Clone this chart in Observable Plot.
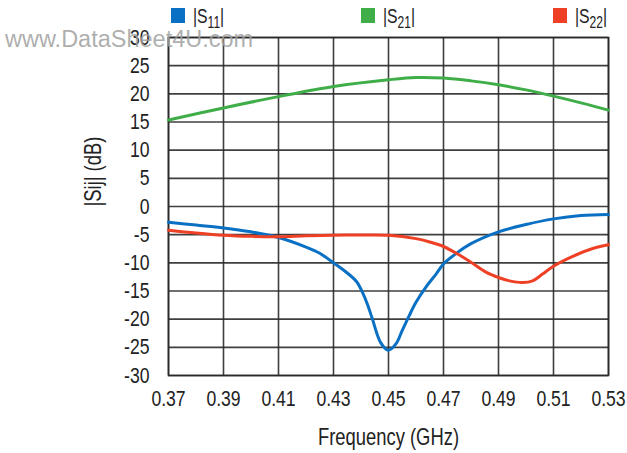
<!DOCTYPE html>
<html><head><meta charset="utf-8">
<script src="https://cdn.jsdelivr.net/npm/d3@7"></script>
<script src="https://cdn.jsdelivr.net/npm/@observablehq/plot@0.6"></script>
<style>
body{margin:0;background:#fff;}
#wrap{position:relative;width:627px;height:453px;font-family:"Liberation Sans",Arial,sans-serif;}
.sw{position:absolute;top:8px;width:14px;height:15px;}
.lt{position:absolute;top:5px;font-size:21px;line-height:21px;color:#222;white-space:nowrap;transform:scaleX(0.75);transform-origin:0 0;}
.lt sub{font-size:16px;vertical-align:-5px;line-height:0;}
#wm{position:absolute;left:5px;top:26px;font-size:23.5px;line-height:normal;color:rgba(160,160,160,0.85);white-space:nowrap;}
</style></head>
<body><div id="wrap"></div>
<script>
// |S11| readings
const f11 = [0.37,0.38,0.39,0.40,0.41,0.42,0.425,0.43,0.435,0.4385,0.4405,0.4423,0.4441,0.4472,0.45,0.4527,0.455,0.4575,0.46,0.4636,0.4673,0.47,0.475,0.48,0.49,0.50,0.51,0.52,0.53];
const s11 = [-2.8,-3.3,-3.8,-4.5,-5.5,-7.2,-8.3,-10.0,-11.8,-13.4,-15.2,-17.3,-19.9,-24.2,-25.5,-24.4,-22.0,-19.4,-17.0,-14.3,-12.0,-10.2,-8.2,-6.6,-4.5,-3.2,-2.2,-1.6,-1.4];
// |S21| readings
const f21 = [0.37,0.39,0.41,0.43,0.45,0.46,0.47,0.48,0.49,0.50,0.51,0.52,0.53];
const s21 = [15.35,17.5,19.5,21.3,22.5,22.9,22.8,22.3,21.6,20.7,19.6,18.4,17.1];
// |S22| readings
const f22 = [0.37,0.38,0.39,0.40,0.41,0.42,0.43,0.44,0.45,0.46,0.465,0.47,0.475,0.48,0.4856,0.49,0.494,0.4988,0.5024,0.506,0.51,0.5168,0.524,0.53];
const s22 = [-4.2,-4.7,-5.1,-5.3,-5.35,-5.2,-5.1,-5.06,-5.1,-5.7,-6.3,-7.1,-8.4,-9.9,-11.7,-12.6,-13.2,-13.5,-13.2,-12.0,-10.6,-8.9,-7.5,-6.8];

const xTicks = [0.37,0.39,0.41,0.43,0.45,0.47,0.49,0.51,0.53];
const yTicks = [-30,-25,-20,-15,-10,-5,0,5,10,15,20,25,30];
const seriesNames = ["|S11|","|S21|","|S22|"];
const colors = ["#0a70c4","#3fae49","#ee4025"];
const xLabel = "Frequency (GHz)";
const yLabel = "|Sij| (dB)";

const rows = [];
f11.forEach((f,i)=>rows.push({f, v:s11[i], s:seriesNames[0]}));
f21.forEach((f,i)=>rows.push({f, v:s21[i], s:seriesNames[1]}));
f22.forEach((f,i)=>rows.push({f, v:s22[i], s:seriesNames[2]}));

const chart = Plot.plot({
  width:627, height:453,
  marginLeft:168, marginRight:19, marginTop:37, marginBottom:78,
  style:{fontFamily:'"Liberation Sans",Arial,sans-serif', fontSize:"22px", color:"#222", background:"#fff", overflow:"visible"},
  x:{domain:[0.37,0.53], ticks:xTicks, tickFormat:d3.format(".2f"), tickSize:0, tickPadding:15, label:null},
  y:{domain:[-30,30], ticks:yTicks, tickFormat:d=>String(d), tickSize:0, tickPadding:19, label:null},
  color:{domain:seriesNames, range:colors},
  marks:[
    Plot.gridX(xTicks,{stroke:"#2a2a2a", strokeOpacity:0.9, strokeWidth:1.6}),
    Plot.gridY(yTicks,{stroke:"#2a2a2a", strokeOpacity:0.9, strokeWidth:1.6}),
    Plot.frame({stroke:"#2a2a2a", strokeWidth:1.6}),
    Plot.line(rows,{x:"f", y:"v", z:"s", stroke:"s", strokeWidth:3, curve:"catmull-rom"}),
    Plot.text([xLabel],{text:d=>d, frameAnchor:"bottom", dy:62, lineAnchor:"middle", fontSize:23, fill:"#222"}),
    Plot.text([yLabel],{text:d=>d, frameAnchor:"left", dx:-75, rotate:-90, lineAnchor:"middle", fontSize:23, fill:"#222"})
  ]
});
// condense all chart text horizontally (Helvetica Condensed look)
chart.querySelectorAll("text").forEach(t=>{
  const x = +t.getAttribute("x")||0, y = +t.getAttribute("y")||0;
  const tr = t.getAttribute("transform")||"";
  t.setAttribute("transform", `${tr} translate(${x},${y}) scale(0.8,1) translate(${-x},${-y})`);
});
const wrap = document.getElementById("wrap");
wrap.appendChild(chart);
chart.style.position="absolute"; chart.style.left="0"; chart.style.top="0";

const wm = document.createElement("div");
wm.id="wm"; wm.textContent="www.DataSheet4U.com";
wrap.appendChild(wm);

const swLeft = [171,361,553];
const parts = [["|S","11","|"],["|S","21","|"],["|S","22","|"]];
parts.forEach((p,i)=>{
  const sq = document.createElement("div");
  sq.className="sw"; sq.style.left=swLeft[i]+"px"; sq.style.background=colors[i];
  wrap.appendChild(sq);
  const t = document.createElement("div");
  t.className="lt"; t.style.left=(swLeft[i]+22)+"px";
  t.innerHTML = `${p[0]}<sub>${p[1]}</sub>${p[2]}`;
  wrap.appendChild(t);
});
</script></body></html>
